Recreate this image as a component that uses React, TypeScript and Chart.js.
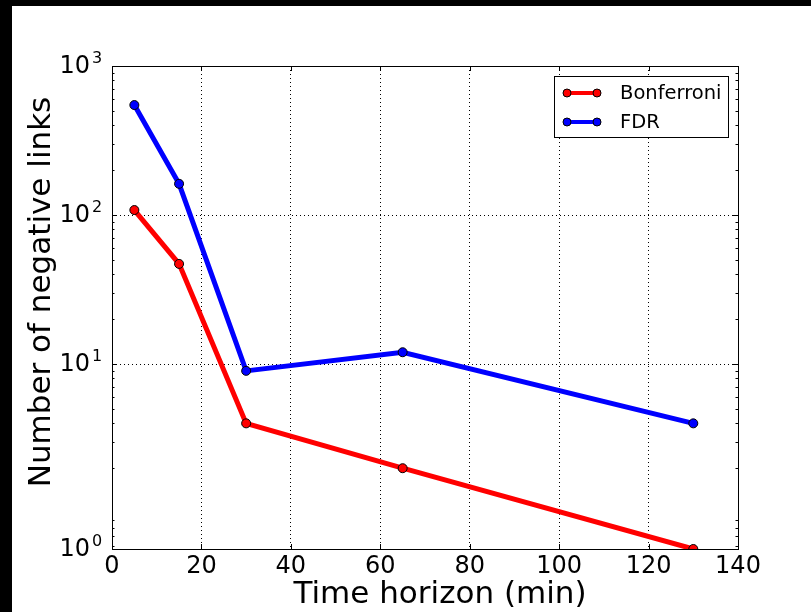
import React, { useEffect, useRef } from "react";
import { Chart, registerables } from "chart.js";

Chart.register(...registerables);

// ---- data ----
const timeHorizon = [5, 15, 30, 65, 130];
const bonferroni = [108, 47, 4, 2, 0.574];
const fdr = [547, 162, 9, 12, 4];
const seriesNames = ["Bonferroni", "FDR"];
const seriesColors = ["#ff0000", "#0000ff"];
const yMin = 0.574;
const yMax = 1000;
const yTickValues = [yMin, 10, 100, 1000];
const yTickExponents = ["0", "1", "2", "3"];
const xTickValues = [0, 20, 40, 60, 80, 100, 120, 140];
const xTitle = "Time horizon (min)";
const yTitle = "Number of negative links";

const FONT = "'DejaVu Sans', 'Liberation Sans', sans-serif";

const decorPlugin = {
  id: "decor",
  afterDraw(chart: any) {
    const ctx = chart.ctx;
    const ca = chart.chartArea;
    const xs = chart.scales.x;
    const ys = chart.scales.y;
    ctx.save();
    // frame
    ctx.strokeStyle = "#000";
    ctx.lineWidth = 1;
    ctx.setLineDash([]);
    ctx.strokeRect(Math.round(ca.left) + 0.5, Math.round(ca.top) + 0.5, Math.round(ca.right - ca.left), Math.round(ca.bottom - ca.top));
    // x ticks (inside, top and bottom)
    ctx.beginPath();
    for (const v of xTickValues) {
      const px = Math.round(xs.getPixelForValue(v)) + 0.5;
      ctx.moveTo(px, ca.bottom);
      ctx.lineTo(px, ca.bottom - 5);
      ctx.moveTo(px, ca.top);
      ctx.lineTo(px, ca.top + 5);
    }
    // y major ticks
    for (const v of yTickValues) {
      const py = Math.round(ys.getPixelForValue(v)) + 0.5;
      ctx.moveTo(ca.left, py);
      ctx.lineTo(ca.left + 5, py);
      ctx.moveTo(ca.right, py);
      ctx.lineTo(ca.right - 5, py);
    }
    // y minor ticks
    for (let d = 0.1; d < 1000; d *= 10) {
      for (let m = 2; m <= 9; m++) {
        const v = d * m;
        if (v < yMin || v > yMax) continue;
        const py = Math.round(ys.getPixelForValue(v)) + 0.5;
        ctx.moveTo(ca.left, py);
        ctx.lineTo(ca.left + 2.5, py);
        ctx.moveTo(ca.right, py);
        ctx.lineTo(ca.right - 2.5, py);
      }
    }
    ctx.stroke();

    // y tick labels: 10^n
    ctx.fillStyle = "#000";
    yTickValues.forEach((v, i) => {
      const py = ys.getPixelForValue(v);
      ctx.font = `24px ${FONT}`;
      ctx.textAlign = "right";
      ctx.textBaseline = "middle";
      ctx.fillText("10", ca.left - 22, py + 1);
      ctx.font = `16px ${FONT}`;
      ctx.textAlign = "left";
      ctx.textBaseline = "alphabetic";
      ctx.fillText(yTickExponents[i], ca.left - 20, py - 3);
    });

    // axis titles
    ctx.font = `31px ${FONT}`;
    ctx.textAlign = "center";
    ctx.textBaseline = "alphabetic";
    ctx.fillText(xTitle, 428, 597);
    ctx.save();
    ctx.translate(38, 286);
    ctx.rotate(-Math.PI / 2);
    ctx.fillText(yTitle, 0, 0);
    ctx.restore();

    // legend
    const lx = 542, ly = 70, lw = 174, lh = 61;
    ctx.fillStyle = "#fff";
    ctx.fillRect(lx, ly, lw, lh);
    ctx.strokeStyle = "#000";
    ctx.lineWidth = 1;
    ctx.strokeRect(lx + 0.5, ly + 0.5, lw, lh);
    const rows = [ly + 17, ly + 46];
    seriesNames.forEach((name, i) => {
      const y = rows[i];
      ctx.strokeStyle = seriesColors[i];
      ctx.lineWidth = 4;
      ctx.beginPath();
      ctx.moveTo(lx + 13, y);
      ctx.lineTo(lx + 43, y);
      ctx.stroke();
      for (const px of [lx + 13, lx + 43]) {
        ctx.beginPath();
        ctx.arc(px, y, 4, 0, Math.PI * 2);
        ctx.fillStyle = seriesColors[i];
        ctx.fill();
        ctx.lineWidth = 1;
        ctx.strokeStyle = "#000";
        ctx.stroke();
      }
      ctx.fillStyle = "#000";
      ctx.font = `19.5px ${FONT}`;
      ctx.textAlign = "left";
      ctx.textBaseline = "middle";
      ctx.fillText(name, lx + 66, y + 1);
    });
    ctx.restore();
  },
};

export default function App() {
  const ref = useRef<HTMLCanvasElement>(null);
  useEffect(() => {
    document.body.style.margin = "0";
    document.body.style.background = "#000";
    const canvas = ref.current!;
    const mk = (vals: number[]) => timeHorizon.map((x, i) => ({ x, y: vals[i] }));
    const ds = (i: number, vals: number[]) => ({
      label: seriesNames[i],
      data: mk(vals),
      borderColor: seriesColors[i],
      backgroundColor: seriesColors[i],
      borderWidth: 5,
      pointRadius: 4.5,
      pointBorderColor: "#000",
      pointBorderWidth: 1,
      pointBackgroundColor: seriesColors[i],
      tension: 0,
      clip: 0,
    });
    const chart = new Chart(canvas, {
      type: "line",
      data: { datasets: [ds(0, bonferroni), ds(1, fdr)] },
      options: {
        animation: false,
        responsive: false,
        maintainAspectRatio: false,
        layout: { padding: { left: 0, top: 60, right: 73, bottom: 0 } },
        plugins: { legend: { display: false }, tooltip: { enabled: false } },
        scales: {
          x: {
            type: "linear",
            min: 0,
            max: 140,
            afterBuildTicks: (s: any) => {
              s.ticks = xTickValues.map((v) => ({ value: v }));
            },
            afterFit: (s: any) => {
              s.height = 63;
            },
            ticks: {
              color: "#000",
              font: { family: FONT, size: 24 },
              padding: 3,
              maxRotation: 0,
              autoSkip: false,
            },
            grid: { color: "#000", lineWidth: 1, drawTicks: false },
            border: { display: false, dash: [1, 3] },
          },
          y: {
            type: "logarithmic",
            min: yMin,
            max: yMax,
            afterBuildTicks: (s: any) => {
              s.ticks = yTickValues.map((v) => ({ value: v }));
            },
            afterFit: (s: any) => {
              s.width = 100;
            },
            ticks: { display: false },
            grid: { color: "#000", lineWidth: 1, drawTicks: false },
            border: { display: false, dash: [1, 3] },
          },
        },
      },
      plugins: [decorPlugin],
    } as any);
    return () => chart.destroy();
  }, []);
  return (
    <div style={{ position: "fixed", left: 0, top: 0, width: 811, height: 612, background: "#000" }}>
      <canvas
        ref={ref}
        width={799}
        height={606}
        style={{ position: "absolute", left: 12, top: 6, width: 799, height: 606, background: "#fff" }}
      />
    </div>
  );
}
